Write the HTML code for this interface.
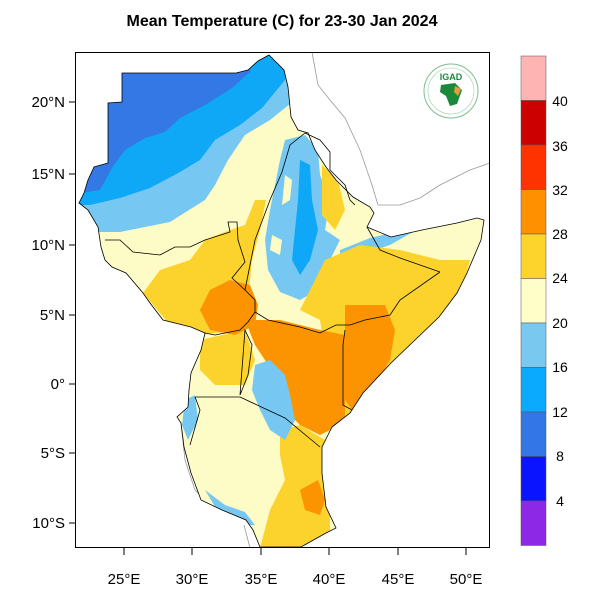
<!DOCTYPE html>
<html><head><meta charset="utf-8"><style>
html,body{margin:0;padding:0;background:#fff;}
svg{display:block;font-family:"Liberation Sans",Arial,sans-serif;}
</style></head><body>
<svg width="600" height="600" viewBox="0 0 600 600" xmlns="http://www.w3.org/2000/svg">
<rect width="600" height="600" fill="#fff"/>
<text x="282" y="26" text-anchor="middle" font-size="16" font-weight="bold">Mean Temperature (C) for 23-30 Jan 2024</text>
<defs>
<clipPath id="land"><path id="lp" d="M122,73 L236,73 248,70 258,61 269,55 284,70 288,87 291,117 298,130 308,133 315,150 326,167 336,180 353,197 370,207 374,213 367,227 391,237 422,230 457,223 477,218 484,220 481,240 467,273 457,293 439,317 415,340 391,363 363,393 350,413 332,427 322,447 322,473 326,507 336,528 326,533 301,547 260,547 253,530 246,520 222,510 201,500 191,473 184,447 181,423 177,417 188,407 189,390 191,373 201,350 205,333 191,327 163,320 150,303 143,293 126,273 112,267 105,260 101,247 98,227 88,210 79,203 84,193 88,180 94,167 108,163 108,103 122,102 Z"/></clipPath>
</defs>
<g fill="none" stroke="#999" stroke-width="0.8">
<path d="M312,52 L318,85 330,100 345,118 360,150 372,185 378,205"/>
<path d="M378,205 L400,205 420,198 440,185 470,170 490,163"/>
<path d="M218,380 L235,380 240,390 230,405 218,410 215,395 Z"/>
<path d="M181,423 L185,460 195,490 205,500"/>
<path d="M244,525 L250,548"/>
</g>
<g clip-path="url(#land)">
<rect x="70" y="50" width="420" height="500" fill="#fefcc6"/>
<path d="M70,50 L300,50 295,100 270,120 245,135 228,160 215,185 205,200 170,222 120,232 95,232 70,232 Z" fill="#76c8f2"/>
<path d="M70,50 L290,50 285,80 262,108 240,125 215,140 200,160 180,172 150,188 120,198 90,205 70,205 Z" fill="#0ea8f7"/>
<path d="M70,50 L255,50 250,72 232,88 205,105 180,118 165,132 145,138 125,150 112,168 100,190 70,195 Z" fill="#3378e5"/>
<path d="M140,150 L170,140 175,148 150,160 Z" fill="#0ea8f7"/>
<!-- Ethiopia highlands -->
<path d="M285,140 L305,135 318,150 320,175 330,200 325,230 340,240 330,260 318,290 300,300 280,292 268,270 265,240 270,210 275,185 280,160 Z" fill="#76c8f2"/>
<path d="M285,175 L292,180 290,200 282,205 Z" fill="#fefcc6"/>
<path d="M272,235 L282,240 280,255 270,250 Z" fill="#fefcc6"/>
<path d="M300,160 L310,165 312,200 318,230 310,260 300,275 292,260 295,230 298,200 Z" fill="#0ea8f7"/>
<path d="M340,250 L370,238 395,232 420,228 390,245 360,255 340,262 Z" fill="#76c8f2"/>
<path d="M143,293 L160,270 190,260 205,240 230,230 245,225 255,200 266,200 260,230 252,260 248,300 240,330 200,335 170,325 Z" fill="#fcd22c"/>
<path d="M322,165 L338,180 345,210 335,230 322,215 Z" fill="#fcd22c"/>
<path d="M325,260 L360,245 400,250 440,260 470,260 460,300 430,330 400,360 370,395 350,415 335,420 330,380 320,320 300,310 Z" fill="#fcd22c"/>
<path d="M200,340 L245,330 255,360 245,385 215,385 200,370 Z" fill="#fcd22c"/>
<path d="M280,430 L300,425 325,440 330,480 330,548 260,548 270,510 285,480 280,455 Z" fill="#fcd22c"/>
<path d="M210,290 L230,280 250,285 258,305 255,325 235,335 210,330 200,310 Z" fill="#fb9400"/>
<path d="M245,320 L280,320 320,330 345,335 345,420 330,430 320,435 300,425 285,410 275,380 265,360 255,345 Z" fill="#fb9400"/>
<path d="M345,305 L385,305 395,330 390,360 370,395 352,410 345,400 Z" fill="#fb9400"/>
<path d="M300,490 L318,480 325,500 320,515 305,510 Z" fill="#fb9400"/>
<path d="M255,365 L270,360 285,375 290,395 295,420 285,440 270,430 260,410 252,390 Z" fill="#76c8f2"/>
<path d="M185,400 L195,395 198,420 188,440 182,425 Z" fill="#76c8f2"/>
<path d="M205,490 L225,505 245,512 255,525 240,525 220,515 Z" fill="#76c8f2"/>
</g>
<use href="#lp" fill="none" stroke="#000" stroke-width="0.8"/>
<g fill="none" stroke="#000" stroke-width="0.8">
<path d="M105,240 L120,240 133,252 160,255 175,247 190,247 205,240 230,232 228,222 237,222 238,240 245,262 232,278 245,290 255,300 255,312 248,322 240,330 215,335 205,333"/>
<path d="M305,133 L290,145 282,172 270,200 255,240 250,265 245,290"/>
<path d="M305,133 L320,140 330,152 330,170 345,185 350,200 355,205"/>
<path d="M255,312 L268,320 300,327 320,333 336,325 350,325 365,320 390,315 400,300 440,272"/>
<path d="M367,227 L380,250 400,258 420,265 440,272"/>
<path d="M345,330 L343,345 343,405 352,410"/>
<path d="M245,330 L252,345 248,375 244,385 240,395 Z"/>
<path d="M195,397 L240,397 285,418 320,447"/>
<path d="M195,397 L200,410 190,445"/>
</g>
<rect x="75.5" y="52.5" width="414" height="495" fill="none" stroke="#000" stroke-width="1"/>
<g stroke="#000" stroke-width="1">
<line x1="75" y1="102" x2="69" y2="102"/><line x1="75" y1="174" x2="69" y2="174"/>
<line x1="75" y1="245" x2="69" y2="245"/><line x1="75" y1="315" x2="69" y2="315"/>
<line x1="75" y1="384" x2="69" y2="384"/><line x1="75" y1="453" x2="69" y2="453"/>
<line x1="75" y1="523" x2="69" y2="523"/>
<line x1="124" y1="548" x2="124" y2="555"/><line x1="192" y1="548" x2="192" y2="555"/>
<line x1="261" y1="548" x2="261" y2="555"/><line x1="329" y1="548" x2="329" y2="555"/>
<line x1="398" y1="548" x2="398" y2="555"/><line x1="466" y1="548" x2="466" y2="555"/>
</g>
<g font-size="15" text-anchor="end">
<text x="65" y="107">20°N</text><text x="65" y="179">15°N</text>
<text x="65" y="250">10°N</text><text x="65" y="320">5°N</text>
<text x="65" y="389">0°</text><text x="65" y="458">5°S</text>
<text x="65" y="528">10°S</text>
</g>
<g font-size="15" text-anchor="middle">
<text x="124" y="584">25°E</text><text x="192" y="584">30°E</text>
<text x="261" y="584">35°E</text><text x="329" y="584">40°E</text>
<text x="398" y="584">45°E</text><text x="466" y="584">50°E</text>
</g>
<circle cx="451" cy="91" r="27" fill="#fff" stroke="#7fbf8f" stroke-width="1"/>
<circle cx="451" cy="91" r="23" fill="none" stroke="#9ccfa8" stroke-width="0.6"/>
<text x="451" y="80" text-anchor="middle" font-size="9" font-weight="bold" fill="#1a8a3a">IGAD</text>
<path d="M441,85 L455,83 462,90 457,104 450,106 446,96 440,92 Z" fill="#1a8a3a"/>
<path d="M455,86 L461,89 458,96 454,92 Z" fill="#e0a040"/>
<g stroke="#555" stroke-width="0.5">
<rect x="521" y="56" width="25" height="44.5" fill="#ffb4b4"/>
<rect x="521" y="100.5" width="25" height="44.5" fill="#cc0000"/>
<rect x="521" y="145" width="25" height="44.5" fill="#ff3300"/>
<rect x="521" y="189.5" width="25" height="44.5" fill="#ff9100"/>
<rect x="521" y="234" width="25" height="44.5" fill="#fdd42b"/>
<rect x="521" y="278.5" width="25" height="44.5" fill="#fffdc8"/>
<rect x="521" y="323" width="25" height="44.5" fill="#78c8f0"/>
<rect x="521" y="367.5" width="25" height="44.5" fill="#0aaaff"/>
<rect x="521" y="412" width="25" height="44.5" fill="#3377e6"/>
<rect x="521" y="456.5" width="25" height="44.5" fill="#0a14ff"/>
<rect x="521" y="501" width="25" height="44.5" fill="#8c28e6"/>
</g>
<g font-size="14" text-anchor="middle">
<text x="560" y="106">40</text><text x="560" y="151">36</text>
<text x="560" y="195">32</text><text x="560" y="239">28</text>
<text x="560" y="283">24</text><text x="560" y="328">20</text>
<text x="560" y="372">16</text><text x="560" y="417">12</text>
<text x="560" y="461">8</text><text x="560" y="506">4</text>
</g>
</svg>
</body></html>
